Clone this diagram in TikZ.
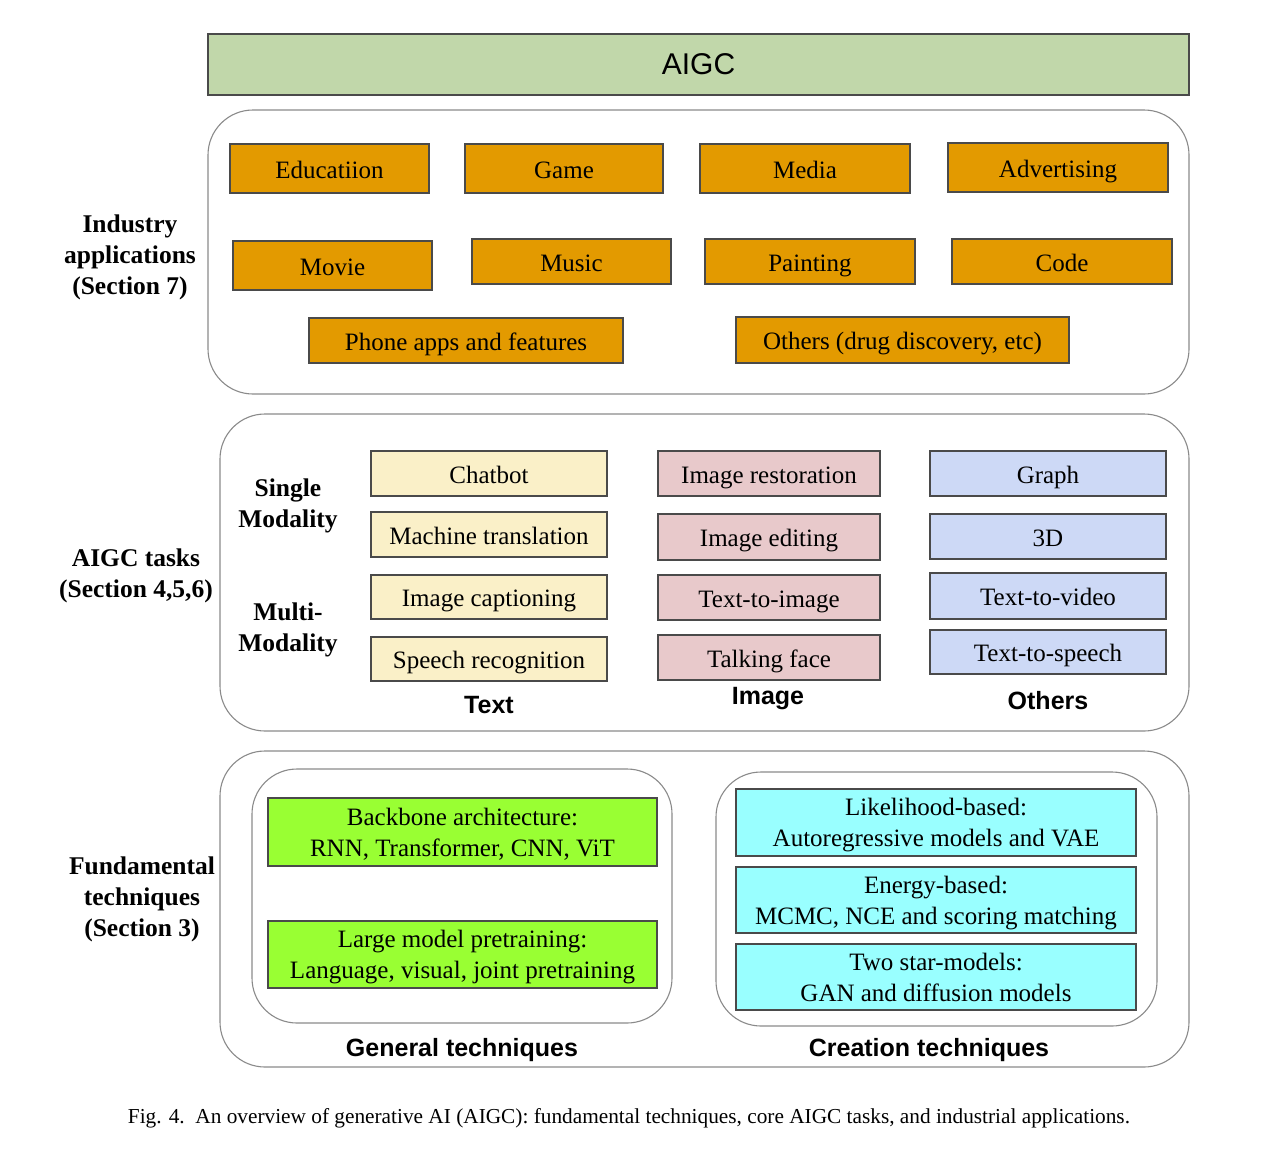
\documentclass[tikz,border=0pt]{standalone}
\usepackage{fontspec}
\setmainfont{Liberation Serif}
\newfontfamily\arialf{Liberation Sans}
\usepackage{graphicx}
\definecolor{aigcg}{HTML}{C1D7AA}
\definecolor{orng}{HTML}{E39A00}
\definecolor{yel}{HTML}{FAF0C8}
\definecolor{pnk}{HTML}{E8C9CB}
\definecolor{blu}{HTML}{CDD9F6}
\definecolor{lime}{HTML}{99FF33}
\definecolor{cyn}{HTML}{99FFFF}
\definecolor{bord}{HTML}{4A4A4A}
\definecolor{obord}{HTML}{8A8A8A}
\tikzset{
  box/.style={draw=bord, line width=1.3pt, rectangle, outer sep=0pt, inner sep=2pt, align=center,
     font=\fontsize{25}{31}\selectfont},
  onel/.style={text height=19pt, text depth=0pt},
  obox/.style={box, onel, fill=orng},
  ybox/.style={box, onel, fill=yel},
  pbox/.style={box, onel, fill=pnk},
  bbox/.style={box, onel, fill=blu},
  gbox/.style={box, fill=lime},
  cbox/.style={box, fill=cyn},
  outerbox/.style={draw=obord, line width=1.1pt, rectangle, rounded corners=45pt, outer sep=0pt, inner sep=0pt},
  sidelbl/.style={align=center, font=\fontsize{25.5}{31}\selectfont\bfseries},
  collbl/.style={font=\arialf\fontsize{25}{30}\selectfont\bfseries},
}
\begin{document}
\begin{tikzpicture}[x=1pt, y=-1pt]
\useasboundingbox (0,0) rectangle (1288,1152);
% title
\node[draw=bord, line width=1.3pt, fill=aigcg, minimum width=981pt, minimum height=61pt, outer sep=0pt, font=\arialf\fontsize{30}{36}\selectfont] (aigc) at (698.5,64.5) {AIGC};
% industry
\node[outerbox, minimum width=981pt, minimum height=284pt] (indbox) at (698.5,252) {};
\node[sidelbl] (indlbl) at (130,257) {Industry\\applications\\(Section 7)};
\node[obox, minimum width=199pt, minimum height=49pt] (edu) at (329.5,168.5) {Educatiion};
\node[obox, minimum width=198pt, minimum height=49pt] (game) at (564,168.5) {Game};
\node[obox, minimum width=210pt, minimum height=49pt] (media) at (805,168.5) {Media};
\node[obox, minimum width=220pt, minimum height=49pt] (adv) at (1058,167.5) {Advertising};
\node[obox, minimum width=199pt, minimum height=49pt] (movie) at (332.5,265.5) {Movie};
\node[obox, minimum width=199pt, minimum height=45pt] (music) at (571.5,261.5) {Music};
\node[obox, minimum width=210pt, minimum height=45pt] (paint) at (810,261.5) {Painting};
\node[obox, minimum width=220pt, minimum height=45pt] (code) at (1062,261.5) {Code};
\node[obox, minimum width=314pt, minimum height=45pt] (phone) at (466,340.5) {Phone apps and features};
\node[obox, minimum width=333pt, minimum height=46pt] (oth) at (902.5,340) {Others (drug discovery, etc)};
% tasks
\node[outerbox, minimum width=969pt, minimum height=317pt] (taskbox) at (704.5,572.5) {};
\node[sidelbl] (tasklbl) at (136,576) {AIGC tasks\\(Section 4,5,6)};
\node[sidelbl] (single) at (288,506) {Single\\Modality};
\node[sidelbl] (multi) at (288,630) {Multi-\\Modality};
\node[ybox, minimum width=236pt, minimum height=45pt] (chat) at (489,473.5) {Chatbot};
\node[ybox, minimum width=236pt, minimum height=45pt] (mt) at (489,534.5) {Machine translation};
\node[ybox, minimum width=236pt, minimum height=44pt] (cap) at (489,597) {Image captioning};
\node[ybox, minimum width=236pt, minimum height=44pt] (sr) at (489,659) {Speech recognition};
\node[pbox, minimum width=222pt, minimum height=45pt] (ir) at (769,473.5) {Image restoration};
\node[pbox, minimum width=222pt, minimum height=46pt] (ie) at (769,537) {Image editing};
\node[pbox, minimum width=222pt, minimum height=45pt] (t2i) at (769,597.5) {Text-to-image};
\node[pbox, minimum width=222pt, minimum height=45pt] (tf) at (769,657.5) {Talking face};
\node[bbox, minimum width=236pt, minimum height=45pt] (graph) at (1048,473.5) {Graph};
\node[bbox, minimum width=236pt, minimum height=45pt] (threed) at (1048,536.5) {3D};
\node[bbox, minimum width=236pt, minimum height=46pt] (t2v) at (1048,596) {Text-to-video};
\node[bbox, minimum width=236pt, minimum height=44pt] (t2s) at (1048,652) {Text-to-speech};
\node[collbl] (textl) at (489,705) {Text};
\node[collbl] (imagel) at (768,699) {Image};
\node[collbl] (othl) at (1048,701) {Others};
% fundamentals
\node[outerbox, minimum width=969pt, minimum height=316pt] (fundbox) at (704.5,909) {};
\node[sidelbl] (fundlbl) at (142,899) {Fundamental\\techniques\\(Section 3)};
\node[outerbox, minimum width=420pt, minimum height=254pt] (genbox) at (462,896) {};
\node[outerbox, minimum width=441pt, minimum height=254pt] (crebox) at (936.5,899) {};
\node[gbox, minimum width=389pt, minimum height=68pt, text depth=0pt] (backbone) at (462.5,832) {Backbone architecture:\\RNN, Transformer, CNN, ViT};
\node[gbox, minimum width=389pt, minimum height=67pt, text depth=0pt] (large) at (462.5,954.5) {Large model pretraining:\\Language, visual, joint pretraining};
\node[cbox, minimum width=400pt, minimum height=67pt, text depth=0pt] (lik) at (936,822.5) {Likelihood-based:\\Autoregressive models and VAE};
\node[cbox, minimum width=400pt, minimum height=66pt, text depth=0pt] (ene) at (936,900) {Energy-based:\\MCMC, NCE and scoring matching};
\node[cbox, minimum width=400pt, minimum height=66pt, text depth=0pt] (two) at (936,977) {Two star-models:\\GAN and diffusion models};
\node[collbl] (genl) at (462,1050) {General techniques};
\node[collbl] (crel) at (929,1050) {Creation techniques};
% caption
\node[inner sep=0pt] (caption) at (629,1118) {\resizebox{1002pt}{!}{\fontsize{20}{24}\selectfont Fig. 4.\ \ An overview of generative AI (AIGC): fundamental techniques, core AIGC tasks, and industrial applications.}};
\end{tikzpicture}
\end{document}
